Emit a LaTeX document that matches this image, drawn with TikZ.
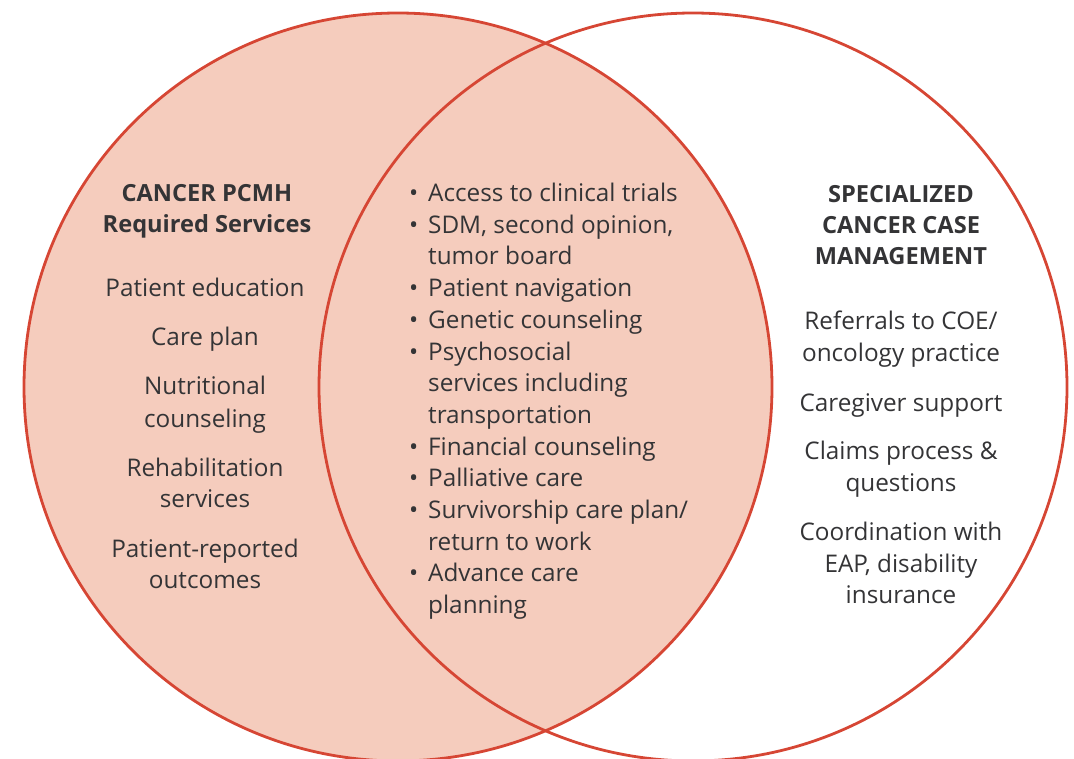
\documentclass[tikz,border=0pt]{standalone}
\usepackage{fontspec}
\setmainfont{Open Sans}
\definecolor{ringred}{RGB}{214,70,52}
\definecolor{salmon}{RGB}{245,204,189}
\definecolor{txt}{RGB}{52,52,54}
\begin{document}
\begin{tikzpicture}[x=1pt,y=-1pt,
  ring/.style={draw=ringred,line width=2.8pt},
  lbl/.style={anchor=base,inner sep=0pt,text=txt,font=\fontsize{24.3}{28}\selectfont},
  ttl/.style={lbl,font=\fontsize{23.6}{28}\selectfont\bfseries},
  itm/.style={anchor=base west,inner sep=0pt,text=txt,font=\fontsize{24.3}{28}\selectfont}]
\useasboundingbox (0,0) rectangle (1074,759);
\fill[salmon] (398,387) circle [radius=374];
\draw[ring] (398,387) circle [radius=374];
\draw[ring] (693,387) circle [radius=374];
% left column
\foreach \t/\y [count=\i] in {CANCER PCMH/202,Required Services/233}
  \node[ttl] (lt\i) at (207,\y) {\t};
\foreach \t/\y [count=\i] in {Patient education/297,Care plan/346,Nutritional/395,counseling/427,Rehabilitation/476,services/507,Patient-reported/557,outcomes/588}
  \node[lbl] (l\i) at (205,\y) {\t};
% right column
\foreach \t/\y [count=\i] in {SPECIALIZED/203,CANCER CASE/234,MANAGEMENT/265}
  \node[ttl] (rt\i) at (901,\y) {\t};
\foreach \t/\y [count=\i] in {{Referrals to COE/}/330,oncology practice/362,Caregiver support/411,Claims process \&/459,questions/491,Coordination with/540,{EAP, disability}/572,insurance/603}
  \node[lbl] (r\i) at (901,\y) {\t};
% middle list
\foreach \t/\y [count=\i] in {Access to clinical trials/201.5,{SDM, second opinion,}/233.2,Patient navigation/296.6,Genetic counseling/328.3,Psychosocial/360,Financial counseling/455.1,Palliative care/486.8,{Survivorship care plan/}/518.5,Advance care/581.9}
  \node[itm] (b\i) at (409,\y) {\makebox[19pt][l]{\textbullet}\t};
\foreach \t/\y [count=\i] in {tumor board/264.9,services including/391.7,transportation/423.4,return to work/550.2,planning/613.6}
  \node[itm] (c\i) at (428,\y) {\t};
\end{tikzpicture}
\end{document}
